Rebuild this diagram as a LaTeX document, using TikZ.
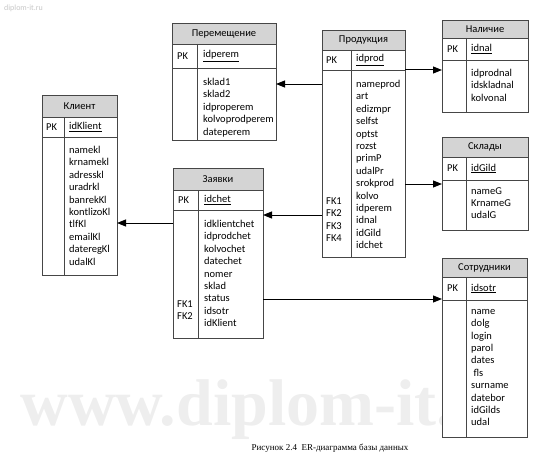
\documentclass[tikz,border=0pt]{standalone}
\usepackage{fontspec}
\setmainfont{Carlito}
\newfontfamily\capfont{Liberation Serif}
\usetikzlibrary{arrows.meta,positioning}
\definecolor{hdrG}{RGB}{212,212,212}
\definecolor{lineD}{RGB}{70,70,70}
\definecolor{wmG}{RGB}{238,238,238}

\begin{document}
\begin{tikzpicture}[
  x=1pt, y=-1pt,
  cell/.style={draw=lineD, line width=0.8pt, anchor=north west, inner sep=0pt, outer sep=0pt},
  hdr/.style={cell, fill=hdrG, font=\fontsize{10.5}{12.4}\selectfont},
  keyrow/.style={cell, fill=white},
  body/.style={cell, fill=white},
  fld/.style={anchor=north west, align=left, inner sep=0pt, font=\fontsize{10.5}{12.4}\selectfont},
  pk/.style={anchor=west, inner sep=0pt, font=\fontsize{10.5}{12.4}\selectfont},
  link/.style={draw=black, line width=1pt, -{Triangle[length=9pt,width=7pt]}},
  capt/.style={font=\capfont\fontsize{9}{11}\selectfont, inner sep=0pt}
]
\useasboundingbox (0,0) rectangle (538,460);

% watermark
\node[font=\capfont\bfseries\fontsize{66}{66}\selectfont, text=wmG, inner sep=0pt] (wm) at (270,410) {www.diplom-it.ru};
\node[font=\fontsize{8}{9}\selectfont, text=black!22, anchor=west, inner sep=0pt] (wmsmall) at (4,8) {diplom-it.ru};

% Перемещение
\node[hdr, minimum width=104pt, minimum height=21pt] (peremH) at (172,23) {Перемещение};
\node[keyrow, minimum width=104pt, minimum height=24pt] (peremK) at (peremH.south west) {};
\node[body, minimum width=104pt, minimum height=72pt] (peremB) at (peremK.south west) {};
\draw[draw=lineD, line width=0.8pt] ([xshift=25pt]peremK.north west) -- ([xshift=25pt]peremB.south west);
\node[pk] at ([xshift=5pt]peremK.west) {PK};
\node[pk] at ([xshift=31pt]peremK.west) {\underline{idperem}};
\node[fld] at ([xshift=31pt,yshift=-10pt]peremB.north west) {sklad1\\sklad2\\idproperem\\kolvoprodperem\\dateperem};

% Продукция
\node[hdr, minimum width=83pt, minimum height=20pt] (prodH) at (322,30) {Продукция};
\node[keyrow, minimum width=83pt, minimum height=20pt] (prodK) at (prodH.south west) {};
\node[body, minimum width=83pt, minimum height=187pt] (prodB) at (prodK.south west) {};
\draw[draw=lineD, line width=0.8pt] ([xshift=29pt]prodK.north west) -- ([xshift=29pt]prodB.south west);
\node[pk] at ([xshift=4pt]prodK.west) {PK};
\node[pk] at ([xshift=34pt]prodK.west) {\underline{idprod}};
\node[fld] at ([xshift=34pt,yshift=-10pt]prodB.north west) {nameprod\\art\\edizmpr\\selfst\\optst\\rozst\\primP\\udalPr\\srokprod\\kolvo\\idperem\\idnal\\idGild\\idchet};
\node[fld] at ([xshift=4pt,yshift=-10pt]prodB.north west) {\mbox{}\\\mbox{}\\\mbox{}\\\mbox{}\\\mbox{}\\\mbox{}\\\mbox{}\\\mbox{}\\\mbox{}\\\mbox{}\\FK1\\FK2\\FK3\\FK4};

% Наличие
\node[hdr, minimum width=86pt, minimum height=18pt] (nalH) at (442,20) {Наличие};
\node[keyrow, minimum width=86pt, minimum height=22pt] (nalK) at (nalH.south west) {};
\node[body, minimum width=86pt, minimum height=52pt] (nalB) at (nalK.south west) {};
\draw[draw=lineD, line width=0.8pt] ([xshift=24pt]nalK.north west) -- ([xshift=24pt]nalB.south west);
\node[pk] at ([xshift=5pt]nalK.west) {PK};
\node[pk] at ([xshift=29pt]nalK.west) {\underline{idnal}};
\node[fld] at ([xshift=29pt,yshift=-9pt]nalB.north west) {idprodnal\\idskladnal\\kolvonal};

% Склады
\node[hdr, minimum width=86pt, minimum height=20pt] (skladH) at (442,137) {Склады};
\node[keyrow, minimum width=86pt, minimum height=23pt] (skladK) at (skladH.south west) {};
\node[body, minimum width=86pt, minimum height=50pt] (skladB) at (skladK.south west) {};
\draw[draw=lineD, line width=0.8pt] ([xshift=24pt]skladK.north west) -- ([xshift=24pt]skladB.south west);
\node[pk] at ([xshift=5pt]skladK.west) {PK};
\node[pk] at ([xshift=29pt]skladK.west) {\underline{idGild}};
\node[fld] at ([xshift=29pt,yshift=-7pt]skladB.north west) {nameG\\KrnameG\\udalG};

% Клиент
\node[hdr, minimum width=75pt, minimum height=22pt] (klientH) at (42,95) {Клиент};
\node[keyrow, minimum width=75pt, minimum height=20pt] (klientK) at (klientH.south west) {};
\node[body, minimum width=75pt, minimum height=138pt] (klientB) at (klientK.south west) {};
\draw[draw=lineD, line width=0.8pt] ([xshift=22pt]klientK.north west) -- ([xshift=22pt]klientB.south west);
\node[pk] at ([xshift=4pt]klientK.west) {PK};
\node[pk] at ([xshift=27pt]klientK.west) {\underline{idKlient}};
\node[fld] at ([xshift=27pt,yshift=-9pt]klientB.north west) {namekl\\krnamekl\\adresskl\\uradrkl\\banrekKl\\kontlizoKl\\tlfKl\\emailKl\\dateregKl\\udalKl};

% Заявки
\node[hdr, minimum width=90pt, minimum height=22pt] (zayavH) at (173,168) {Заявки};
\node[keyrow, minimum width=90pt, minimum height=20pt] (zayavK) at (zayavH.south west) {};
\node[body, minimum width=90pt, minimum height=128pt] (zayavB) at (zayavK.south west) {};
\draw[draw=lineD, line width=0.8pt] ([xshift=25pt]zayavK.north west) -- ([xshift=25pt]zayavB.south west);
\node[pk] at ([xshift=5pt]zayavK.west) {PK};
\node[pk] at ([xshift=31pt]zayavK.west) {\underline{idchet}};
\node[fld] at ([xshift=31pt,yshift=-10pt]zayavB.north west) {idklientchet\\idprodchet\\kolvochet\\datechet\\nomer\\sklad\\status\\idsotr\\idKlient};
\node[fld] at ([xshift=4pt,yshift=-10pt]zayavB.north west) {\mbox{}\\\mbox{}\\\mbox{}\\\mbox{}\\\mbox{}\\\mbox{}\\\mbox{}\\FK1\\FK2};

% Сотрудники
\node[hdr, minimum width=85pt, minimum height=19pt] (sotrH) at (442,258) {Сотрудники};
\node[keyrow, minimum width=85pt, minimum height=23pt] (sotrK) at (sotrH.south west) {};
\node[body, minimum width=85pt, minimum height=137pt] (sotrB) at (sotrK.south west) {};
\draw[draw=lineD, line width=0.8pt] ([xshift=24pt]sotrK.north west) -- ([xshift=24pt]sotrB.south west);
\node[pk] at ([xshift=5pt]sotrK.west) {PK};
\node[pk] at ([xshift=29pt]sotrK.west) {\underline{idsotr}};
\node[fld] at ([xshift=29pt,yshift=-9pt]sotrB.north west) {name\\dolg\\login\\parol\\dates\\\ fls\\surname\\datebor\\idGilds\\udal};

% links
\draw[link] (prodB.west |- 0,84) -- (peremB.east |- 0,84);
\draw[link] (prodB.east |- 0,70) -- (nalB.west |- 0,70);
\draw[link] (prodB.east |- 0,184) -- (skladB.west |- 0,184);
\draw[link] (prodB.west |- 0,215) -- (zayavB.east |- 0,215);
\draw[link] (zayavB.west |- 0,223) -- (klientB.east |- 0,223);
\draw[link] (zayavB.east |- 0,299) -- (sotrB.west |- 0,299);

\node[capt] (cap) at (330,448) {Рисунок 2.4\ \ ER-диаграмма базы данных};

\end{tikzpicture}
\end{document}
